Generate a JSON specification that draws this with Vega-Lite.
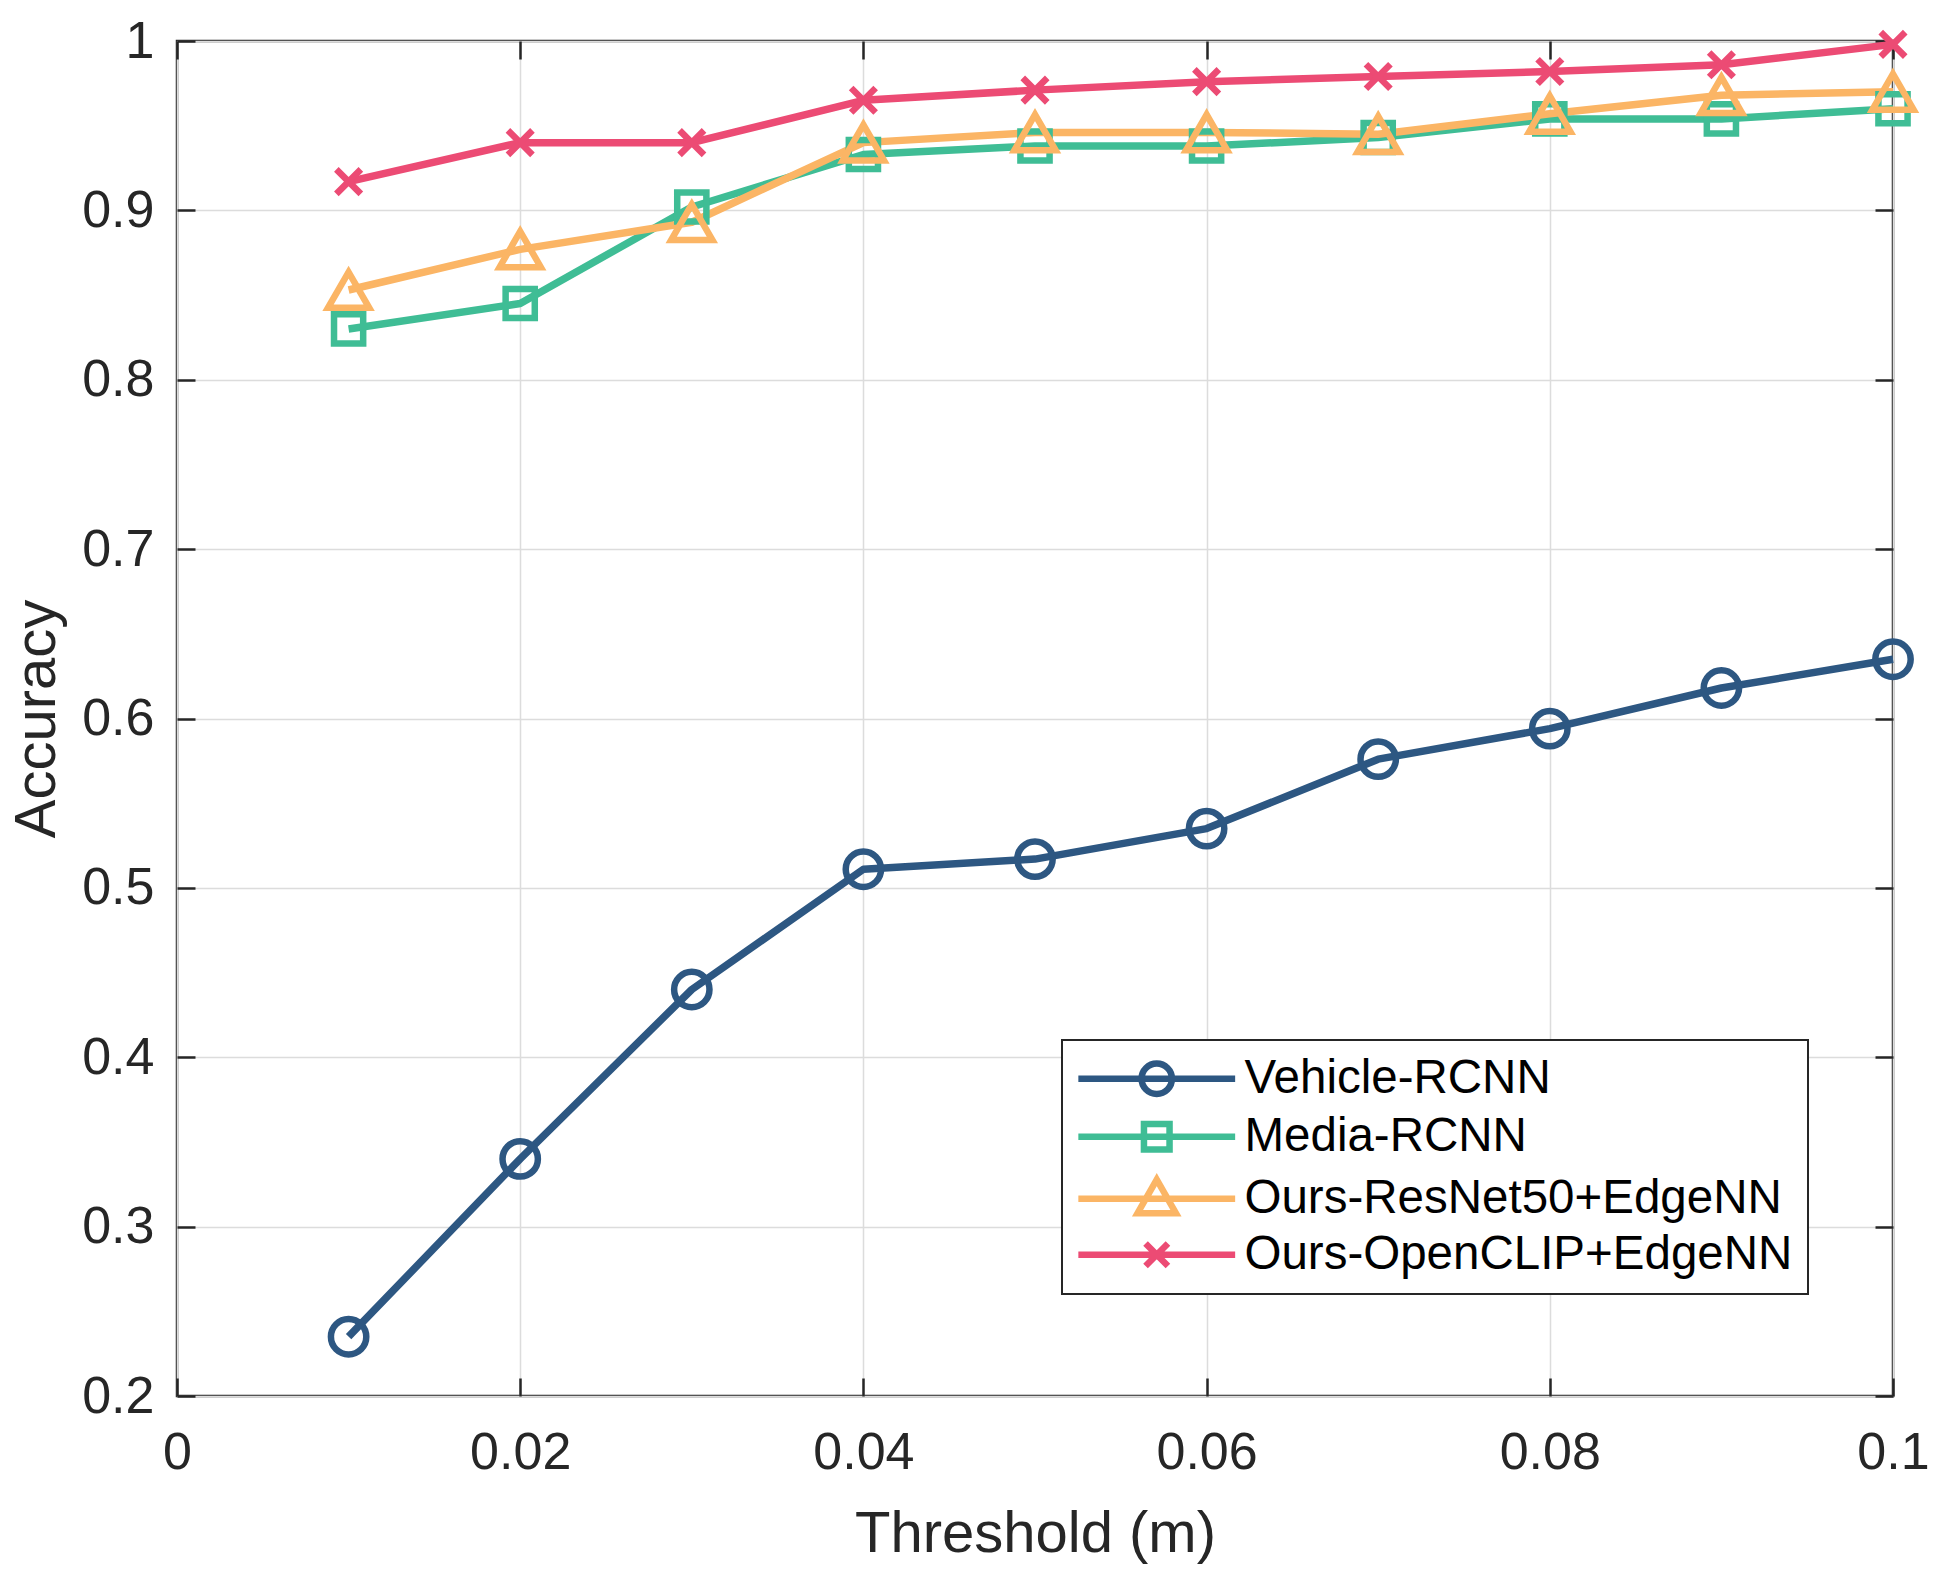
{
  "$schema": "https://vega.github.io/schema/vega-lite/v6.json",
  "width": 1716,
  "height": 1355,
  "autosize": {"type": "none"},
  "padding": {"left": 177, "top": 41, "right": 56, "bottom": 181},
  "background": "white",
  "data": {
    "values": [
      {"t": 0.01, "acc": 0.235, "series": "Vehicle-RCNN"},
      {"t": 0.02, "acc": 0.340, "series": "Vehicle-RCNN"},
      {"t": 0.03, "acc": 0.440, "series": "Vehicle-RCNN"},
      {"t": 0.04, "acc": 0.511, "series": "Vehicle-RCNN"},
      {"t": 0.05, "acc": 0.517, "series": "Vehicle-RCNN"},
      {"t": 0.06, "acc": 0.535, "series": "Vehicle-RCNN"},
      {"t": 0.07, "acc": 0.576, "series": "Vehicle-RCNN"},
      {"t": 0.08, "acc": 0.594, "series": "Vehicle-RCNN"},
      {"t": 0.09, "acc": 0.618, "series": "Vehicle-RCNN"},
      {"t": 0.10, "acc": 0.635, "series": "Vehicle-RCNN"},
      {"t": 0.01, "acc": 0.830, "series": "Media-RCNN"},
      {"t": 0.02, "acc": 0.845, "series": "Media-RCNN"},
      {"t": 0.03, "acc": 0.902, "series": "Media-RCNN"},
      {"t": 0.04, "acc": 0.933, "series": "Media-RCNN"},
      {"t": 0.05, "acc": 0.938, "series": "Media-RCNN"},
      {"t": 0.06, "acc": 0.938, "series": "Media-RCNN"},
      {"t": 0.07, "acc": 0.943, "series": "Media-RCNN"},
      {"t": 0.08, "acc": 0.954, "series": "Media-RCNN"},
      {"t": 0.09, "acc": 0.954, "series": "Media-RCNN"},
      {"t": 0.10, "acc": 0.960, "series": "Media-RCNN"},
      {"t": 0.01, "acc": 0.853, "series": "Ours-ResNet50+EdgeNN"},
      {"t": 0.02, "acc": 0.877, "series": "Ours-ResNet50+EdgeNN"},
      {"t": 0.03, "acc": 0.893, "series": "Ours-ResNet50+EdgeNN"},
      {"t": 0.04, "acc": 0.940, "series": "Ours-ResNet50+EdgeNN"},
      {"t": 0.05, "acc": 0.946, "series": "Ours-ResNet50+EdgeNN"},
      {"t": 0.06, "acc": 0.946, "series": "Ours-ResNet50+EdgeNN"},
      {"t": 0.07, "acc": 0.945, "series": "Ours-ResNet50+EdgeNN"},
      {"t": 0.08, "acc": 0.957, "series": "Ours-ResNet50+EdgeNN"},
      {"t": 0.09, "acc": 0.968, "series": "Ours-ResNet50+EdgeNN"},
      {"t": 0.10, "acc": 0.970, "series": "Ours-ResNet50+EdgeNN"},
      {"t": 0.01, "acc": 0.917, "series": "Ours-OpenCLIP+EdgeNN"},
      {"t": 0.02, "acc": 0.940, "series": "Ours-OpenCLIP+EdgeNN"},
      {"t": 0.03, "acc": 0.940, "series": "Ours-OpenCLIP+EdgeNN"},
      {"t": 0.04, "acc": 0.965, "series": "Ours-OpenCLIP+EdgeNN"},
      {"t": 0.05, "acc": 0.971, "series": "Ours-OpenCLIP+EdgeNN"},
      {"t": 0.06, "acc": 0.976, "series": "Ours-OpenCLIP+EdgeNN"},
      {"t": 0.07, "acc": 0.979, "series": "Ours-OpenCLIP+EdgeNN"},
      {"t": 0.08, "acc": 0.982, "series": "Ours-OpenCLIP+EdgeNN"},
      {"t": 0.09, "acc": 0.986, "series": "Ours-OpenCLIP+EdgeNN"},
      {"t": 0.10, "acc": 0.998, "series": "Ours-OpenCLIP+EdgeNN"}
    ]
  },
  "layer": [
    {
      "mark": {"type": "line", "strokeWidth": 7.5, "strokeJoin": "round"},
      "encoding": {
        "x": {"field": "t", "type": "quantitative", "scale": {"domain": [0, 0.1], "nice": false, "zero": false},
          "axis": {"orient": "bottom", "values": [0, 0.02, 0.04, 0.06, 0.08, 0.1], "format": ".2~f", "title": "Threshold (m)",
            "grid": true, "labelPadding": 49, "titleY": 155, "titleBaseline": "alphabetic"}},
        "y": {"field": "acc", "type": "quantitative", "scale": {"domain": [0.2, 1], "nice": false, "zero": false},
          "axis": {"orient": "left", "values": [0.2, 0.3, 0.4, 0.5, 0.6, 0.7, 0.8, 0.9, 1], "format": ".1~f", "title": "Accuracy",
            "grid": true, "labelPadding": 41, "titleX": -123, "titleBaseline": "alphabetic"}},
        "color": {"field": "series", "type": "nominal",
          "scale": {"domain": ["Vehicle-RCNN", "Media-RCNN", "Ours-ResNet50+EdgeNN", "Ours-OpenCLIP+EdgeNN"],
            "range": ["#2D5782", "#3FBD95", "#FBB565", "#EC4B74"]},
          "legend": {
            "title": null, "orient": "none", "legendX": 885, "legendY": 999,
            "encode": {
              "symbols": {"update": {
                "shape": {"signal": "datum.value === 'Vehicle-RCNN' ? 'M-4.9,0H4.9M-0.95,0A0.95,0.95 0 1,0 0.95,0A0.95,0.95 0 1,0 -0.95,0' : datum.value === 'Media-RCNN' ? 'M-4.9,0H4.9M-0.8,-0.8H0.8V0.8H-0.8Z' : datum.value === 'Ours-ResNet50+EdgeNN' ? 'M-4.9,0H4.9M0,-1.2L1.2,0.9H-1.2Z' : 'M-4.9,0H4.9M-0.7,-0.7L0.7,0.7M-0.7,0.7L0.7,-0.7'"},
                "size": {"value": 1024},
                "strokeWidth": {"value": 6.5}
              }},
              "legend": {"update": {"strokeWidth": {"value": 2}}}
            }
          }}
      }
    },
    {
      "transform": [{"filter": "datum.series === 'Vehicle-RCNN'"}],
      "mark": {"type": "point", "shape": "circle", "size": 1250, "filled": false, "strokeWidth": 6.5, "opacity": 1},
      "encoding": {
        "x": {"field": "t", "type": "quantitative", "axis": null},
        "y": {"field": "acc", "type": "quantitative", "axis": null},
        "color": {"field": "series", "type": "nominal",
          "scale": {"domain": ["Vehicle-RCNN", "Media-RCNN", "Ours-ResNet50+EdgeNN", "Ours-OpenCLIP+EdgeNN"],
            "range": ["#2D5782", "#3FBD95", "#FBB565", "#EC4B74"]},
          "legend": {
            "title": null, "orient": "none", "legendX": 885, "legendY": 999,
            "encode": {
              "symbols": {"update": {
                "shape": {"signal": "datum.value === 'Vehicle-RCNN' ? 'M-4.9,0H4.9M-0.95,0A0.95,0.95 0 1,0 0.95,0A0.95,0.95 0 1,0 -0.95,0' : datum.value === 'Media-RCNN' ? 'M-4.9,0H4.9M-0.8,-0.8H0.8V0.8H-0.8Z' : datum.value === 'Ours-ResNet50+EdgeNN' ? 'M-4.9,0H4.9M0,-1.2L1.2,0.9H-1.2Z' : 'M-4.9,0H4.9M-0.7,-0.7L0.7,0.7M-0.7,0.7L0.7,-0.7'"},
                "size": {"value": 1024},
                "strokeWidth": {"value": 6.5}
              }},
              "legend": {"update": {"strokeWidth": {"value": 2}}}
            }
          }}
      }
    },
    {
      "transform": [{"filter": "datum.series === 'Media-RCNN'"}],
      "mark": {"type": "point", "shape": "square", "size": 850, "filled": false, "strokeWidth": 6.5, "opacity": 1},
      "encoding": {
        "x": {"field": "t", "type": "quantitative", "axis": null},
        "y": {"field": "acc", "type": "quantitative", "axis": null},
        "color": {"field": "series", "type": "nominal",
          "scale": {"domain": ["Vehicle-RCNN", "Media-RCNN", "Ours-ResNet50+EdgeNN", "Ours-OpenCLIP+EdgeNN"],
            "range": ["#2D5782", "#3FBD95", "#FBB565", "#EC4B74"]},
          "legend": {
            "title": null, "orient": "none", "legendX": 885, "legendY": 999,
            "encode": {
              "symbols": {"update": {
                "shape": {"signal": "datum.value === 'Vehicle-RCNN' ? 'M-4.9,0H4.9M-0.95,0A0.95,0.95 0 1,0 0.95,0A0.95,0.95 0 1,0 -0.95,0' : datum.value === 'Media-RCNN' ? 'M-4.9,0H4.9M-0.8,-0.8H0.8V0.8H-0.8Z' : datum.value === 'Ours-ResNet50+EdgeNN' ? 'M-4.9,0H4.9M0,-1.2L1.2,0.9H-1.2Z' : 'M-4.9,0H4.9M-0.7,-0.7L0.7,0.7M-0.7,0.7L0.7,-0.7'"},
                "size": {"value": 1024},
                "strokeWidth": {"value": 6.5}
              }},
              "legend": {"update": {"strokeWidth": {"value": 2}}}
            }
          }}
      }
    },
    {
      "transform": [{"filter": "datum.series === 'Ours-ResNet50+EdgeNN'"}],
      "mark": {"type": "point", "shape": "triangle-up", "size": 1700, "filled": false, "strokeWidth": 6.5, "opacity": 1},
      "encoding": {
        "x": {"field": "t", "type": "quantitative", "axis": null},
        "y": {"field": "acc", "type": "quantitative", "axis": null},
        "color": {"field": "series", "type": "nominal",
          "scale": {"domain": ["Vehicle-RCNN", "Media-RCNN", "Ours-ResNet50+EdgeNN", "Ours-OpenCLIP+EdgeNN"],
            "range": ["#2D5782", "#3FBD95", "#FBB565", "#EC4B74"]},
          "legend": {
            "title": null, "orient": "none", "legendX": 885, "legendY": 999,
            "encode": {
              "symbols": {"update": {
                "shape": {"signal": "datum.value === 'Vehicle-RCNN' ? 'M-4.9,0H4.9M-0.95,0A0.95,0.95 0 1,0 0.95,0A0.95,0.95 0 1,0 -0.95,0' : datum.value === 'Media-RCNN' ? 'M-4.9,0H4.9M-0.8,-0.8H0.8V0.8H-0.8Z' : datum.value === 'Ours-ResNet50+EdgeNN' ? 'M-4.9,0H4.9M0,-1.2L1.2,0.9H-1.2Z' : 'M-4.9,0H4.9M-0.7,-0.7L0.7,0.7M-0.7,0.7L0.7,-0.7'"},
                "size": {"value": 1024},
                "strokeWidth": {"value": 6.5}
              }},
              "legend": {"update": {"strokeWidth": {"value": 2}}}
            }
          }}
      }
    },
    {
      "transform": [{"filter": "datum.series === 'Ours-OpenCLIP+EdgeNN'"}],
      "mark": {"type": "point", "shape": "M-1,-1L1,1M-1,1L1,-1", "size": 600, "filled": false, "strokeWidth": 6.5, "opacity": 1},
      "encoding": {
        "x": {"field": "t", "type": "quantitative", "axis": null},
        "y": {"field": "acc", "type": "quantitative", "axis": null},
        "color": {"field": "series", "type": "nominal",
          "scale": {"domain": ["Vehicle-RCNN", "Media-RCNN", "Ours-ResNet50+EdgeNN", "Ours-OpenCLIP+EdgeNN"],
            "range": ["#2D5782", "#3FBD95", "#FBB565", "#EC4B74"]},
          "legend": {
            "title": null, "orient": "none", "legendX": 885, "legendY": 999,
            "encode": {
              "symbols": {"update": {
                "shape": {"signal": "datum.value === 'Vehicle-RCNN' ? 'M-4.9,0H4.9M-0.95,0A0.95,0.95 0 1,0 0.95,0A0.95,0.95 0 1,0 -0.95,0' : datum.value === 'Media-RCNN' ? 'M-4.9,0H4.9M-0.8,-0.8H0.8V0.8H-0.8Z' : datum.value === 'Ours-ResNet50+EdgeNN' ? 'M-4.9,0H4.9M0,-1.2L1.2,0.9H-1.2Z' : 'M-4.9,0H4.9M-0.7,-0.7L0.7,0.7M-0.7,0.7L0.7,-0.7'"},
                "size": {"value": 1024},
                "strokeWidth": {"value": 6.5}
              }},
              "legend": {"update": {"strokeWidth": {"value": 2}}}
            }
          }}
      }
    },
    {
      "mark": {"type": "point", "opacity": 0},
      "encoding": {
        "x": {"field": "t", "type": "quantitative",
          "axis": {"orient": "top", "values": [0, 0.02, 0.04, 0.06, 0.08, 0.1], "labels": false, "title": null, "grid": false}},
        "y": {"field": "acc", "type": "quantitative",
          "axis": {"orient": "right", "values": [0.2, 0.3, 0.4, 0.5, 0.6, 0.7, 0.8, 0.9, 1], "labels": false, "title": null, "grid": false}}
      }
    }
  ],
  "resolve": {"axis": {"x": "independent", "y": "independent"}},
  "config": {
    "view": {"stroke": "#262626", "strokeWidth": 2.5},
    "axis": {
      "domain": false,
      "labelFlush": false,
      "labelFont": "Liberation Sans",
      "labelFontSize": 52,
      "labelColor": "#262626",
      "tickColor": "#262626",
      "tickSize": -18,
      "tickWidth": 2.5,
      "gridColor": "#DCDCDC",
      "gridWidth": 1.5,
      "titleFont": "Liberation Sans",
      "titleFontSize": 58,
      "titleFontWeight": "normal",
      "titleColor": "#262626"
    },
    "legend": {
      "labelFont": "Liberation Sans",
      "labelFontSize": 47.5,
      "labelColor": "#000000",
      "symbolSize": 1024,
      "symbolStrokeWidth": 6.5,
      "symbolOpacity": 1,
      "strokeColor": "#262626",
      "fillColor": "white",
      "padding": 15,
      "rowPadding": 3,
      "symbolOffset": 56,
      "labelOffset": 64,
      "labelLimit": 1000
    }
  }
}
